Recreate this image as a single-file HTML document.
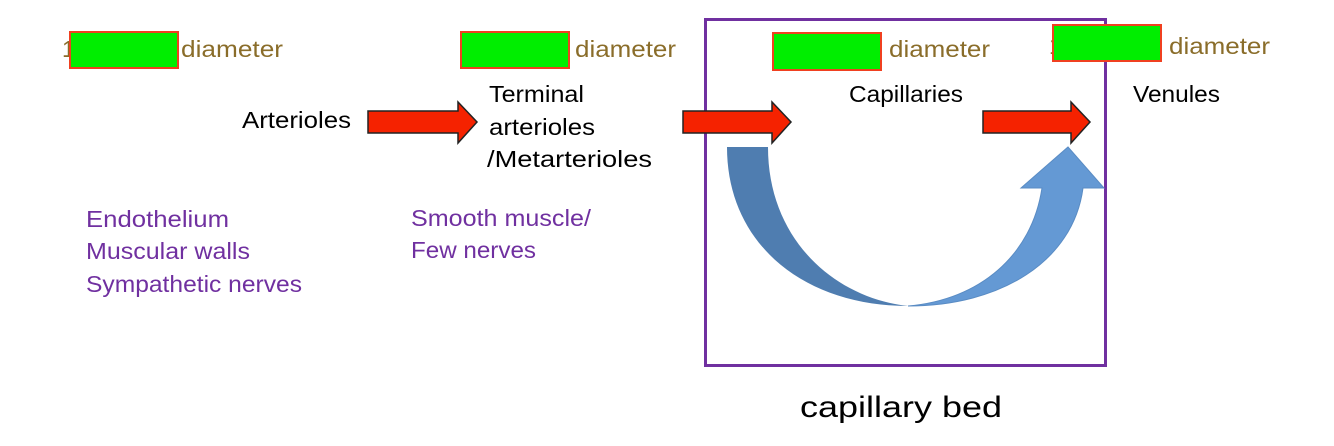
<!DOCTYPE html>
<html><head><meta charset="utf-8"><style>
html,body{margin:0;padding:0;background:#fff;}
svg{display:block;}
text{font-family:"Liberation Sans",sans-serif;}
</style></head><body>
<svg width="1334" height="446" viewBox="0 0 1334 446" xmlns="http://www.w3.org/2000/svg">
<rect width="1334" height="446" fill="#fff"/>
<rect x="705.5" y="19.5" width="400" height="346" fill="none" stroke="#7030a0" stroke-width="3"/>
<g fill="#8a6d2a" font-size="23">
<text x="62" y="57">1</text>
<text x="181" y="57" textLength="102" lengthAdjust="spacingAndGlyphs">diameter</text>
<text x="575" y="57" textLength="101" lengthAdjust="spacingAndGlyphs">diameter</text>
<text x="889" y="57" textLength="101" lengthAdjust="spacingAndGlyphs">diameter</text>
<text x="1049" y="54">1</text>
<text x="1169" y="54" textLength="101" lengthAdjust="spacingAndGlyphs">diameter</text>
</g>
<g fill="#00ee00" stroke="#f04020" stroke-width="2">
<rect x="70" y="32" width="108" height="36"/>
<rect x="461" y="32" width="108" height="36"/>
<rect x="773" y="33" width="108" height="37"/>
<rect x="1053" y="25" width="108" height="36"/>
</g>
<g fill="#000" font-size="23">
<text x="242" y="128" textLength="109" lengthAdjust="spacingAndGlyphs">Arterioles</text>
<text x="489" y="102" textLength="95" lengthAdjust="spacingAndGlyphs">Terminal</text>
<text x="489" y="135" textLength="106" lengthAdjust="spacingAndGlyphs">arterioles</text>
<text x="487" y="167" textLength="165" lengthAdjust="spacingAndGlyphs">/Metarterioles</text>
<text x="849" y="102" textLength="114" lengthAdjust="spacingAndGlyphs">Capillaries</text>
<text x="1133" y="102" textLength="87" lengthAdjust="spacingAndGlyphs">Venules</text>
</g>
<g fill="#7030a0" font-size="23">
<text x="86" y="227" textLength="143" lengthAdjust="spacingAndGlyphs">Endothelium</text>
<text x="86" y="259" textLength="164" lengthAdjust="spacingAndGlyphs">Muscular walls</text>
<text x="86" y="292" textLength="216" lengthAdjust="spacingAndGlyphs">Sympathetic nerves</text>
<text x="411" y="226" textLength="180" lengthAdjust="spacingAndGlyphs">Smooth muscle/</text>
<text x="411" y="258" textLength="125" lengthAdjust="spacingAndGlyphs">Few nerves</text>
</g>
<g fill="#f52200" stroke="#222" stroke-width="1.5">
<path d="M368,111 L458,111 L458,102 L477,122 L458,143 L458,133 L368,133 Z"/>
<path d="M683,111 L772,111 L772,102 L791,122 L772,143 L772,133 L683,133 Z"/>
<path d="M983,111 L1071,111 L1071,102 L1090,122 L1071,143 L1071,133 L983,133 Z"/>
</g>
<path d="M727,147 C727,245 805,306 908,306 C835,298 768,240 768,147 Z" fill="#4f7db0"/>
<path d="M908,306 C1000,306 1073,262 1083,188 L1104,188 L1068,147 L1021,188 L1042,188 C1032,255 980,300 908,306 Z" fill="#6499d4" stroke="#5a8cc4" stroke-width="1"/>
<text x="800" y="417" font-size="30" fill="#000" textLength="202" lengthAdjust="spacingAndGlyphs">capillary bed</text>
</svg>
</body></html>
